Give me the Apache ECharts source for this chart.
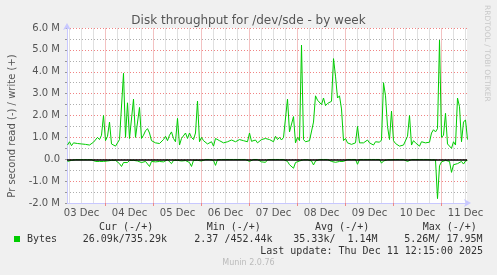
<!DOCTYPE html>
<html><head><meta charset="utf-8">
<script src="https://cdn.jsdelivr.net/npm/echarts@6/dist/echarts.min.js"></script>
<style>html,body{margin:0;padding:0;background:#f0f0f0}#c{width:497px;height:275px}</style>
</head><body><div id="c"></div><script>
// hours counted from 03 Dec 00:00; one sample per hour starting at firstHour
const firstHour = 5;
const dayLabels = ['03 Dec','04 Dec','05 Dec','06 Dec','07 Dec','08 Dec','09 Dec','10 Dec','11 Dec'];
// write (+) in MB/s
const writeValues = [
 0.65,0.8,0.62,0.75,0.68,0.72,0.66,0.7,0.75,0.68,0.72,
 0.65,0.7,0.78,0.85,1.0,0.9,1.1,2.0,0.85,1.05,
 1.7,0.7,0.62,0.6,0.75,0.9,0.85,3.93,1.0,2.58,
 0.95,1.0,2.75,1.0,0.95,2.37,0.95,1.1,1.3,1.4,
 1.2,0.85,0.8,0.75,0.78,0.72,0.8,0.9,1.05,0.85,
 1.1,1.25,0.95,0.8,1.87,0.65,0.95,0.9,1.2,0.95,
 1.2,1.0,0.9,1.2,2.66,0.8,1.0,0.85,0.9,0.7,
 0.75,0.8,0.6,0.95,1.0,0.85,0.88,0.75,0.75,0.8,
 0.85,0.88,0.82,0.8,0.88,0.9,0.82,0.85,0.78,0.8,
 1.2,0.82,0.85,0.88,0.75,0.8,0.9,0.85,0.95,0.88,
 0.9,0.88,0.8,1.05,0.9,1.0,0.88,1.0,0.95,2.75,
 1.25,1.2,1.95,0.75,1.0,0.85,5.22,0.9,0.8,0.88,
 0.85,0.78,1.7,2.9,2.7,2.75,2.5,2.8,2.45,2.55,
 2.5,2.65,4.6,3.8,2.8,2.9,2.3,0.85,0.95,0.75,
 0.72,0.68,0.7,0.75,1.5,0.75,0.8,0.75,0.8,0.88,
 0.75,0.8,0.65,0.8,0.75,0.78,0.88,3.5,2.9,1.5,
 0.9,2.2,0.85,0.72,0.75,0.6,0.58,0.65,0.6,1.05,
 2.0,0.65,0.85,0.75,0.72,0.6,0.8,0.72,0.75,0.8,
 0.78,1.2,1.35,1.25,1.4,5.45,1.0,1.1,2.1,0.7,
 0.68,0.5,0.8,0.65,2.8,2.4,0.8,1.7,1.8,0.9
];
// read (-) in MB/s, drawn below zero
const readValues = [
 0.1,0.08,0.05,0.02,0.02,0.02,0.02,0.02,0.02,0.02,0.02,
 0.02,0.02,0.02,0.1,0.12,0.1,0.15,0.1,0.12,0.08,
 0.1,0.05,0.03,0.05,0.08,0.2,0.33,0.15,0.1,0.15,
 0.05,0.08,0.05,0.1,0.08,0.12,0.15,0.2,0.1,0.15,
 0.33,0.1,0.08,0.12,0.05,0.1,0.08,0.12,0.05,0.02,
 0.1,0.2,0.05,0.03,0.05,0.02,0.08,0.03,0.06,0.05,
 0.15,0.33,0.05,0.03,0.05,0.02,0.08,0.06,0.01,0.01,
 0.01,0.01,0.05,0.28,0.02,0.01,0.01,0.01,0.01,0.01,
 0.01,0.01,0.01,0.01,0.01,0.01,0.01,0.01,0.01,0.01,
 0.1,0.08,0.01,0.01,0.01,0.01,0.12,0.06,0.14,0.02,
 0.01,0.01,0.01,0.01,0.01,0.01,0.01,0.01,0.05,0.1,
 0.25,0.33,0.41,0.15,0.1,0.08,0.05,0.02,0.02,0.02,
 0.1,0.08,0.26,0.08,0.06,0.01,0.01,0.01,0.01,0.01,
 0.01,0.1,0.1,0.14,0.06,0.1,0.05,0.1,0.01,0.01,
 0.01,0.01,0.01,0.01,0.23,0.01,0.01,0.01,0.01,0.01,
 0.01,0.01,0.01,0.01,0.01,0.01,0.18,0.08,0.06,0.02,
 0.04,0.02,0.08,0.01,0.01,0.01,0.01,0.01,0.01,0.1,
 0.08,0.01,0.01,0.01,0.01,0.01,0.01,0.01,0.01,0.01,
 0.01,0.03,0.05,0.03,1.8,0.3,0.12,0.08,0.05,0.08,
 0.1,0.6,0.25,0.18,0.2,0.25,0.1,0.22,0.08,0.05
];
const legendHeaders = ['Cur (-/+)','Min (-/+)','Avg (-/+)','Max (-/+)'];
const legendValues = ['26.09k/735.29k','2.37 /452.44k','35.33k/  1.14M','5.26M/ 17.95M'];
const lastUpdate = 'Last update: Thu Dec 11 12:15:00 2025';
const yTitle = 'Pr second read (-) / write (+)';
const titleText = 'Disk throughput for /dev/sde - by week';

const xMin = 4.75, xMax = 204.75;
const midnights = [], noons = [];
for (let h = 6; h < xMax; h += 6) {
  if (h % 24 === 0) midnights.push(h);
  if (h % 24 === 12) noons.push(h);
}
// quarter-hour slots spanning the x range, used only to place the vertical grid
const quarterSlots = [];
for (let q = xMin * 4; q <= xMax * 4; q++) quarterSlots.push(q / 4);

const writeData = writeValues.map((v, i) => [firstHour + i, v]);
const readData = readValues.map((v, i) => [firstHour + i, -v]);

const majorColor = 'rgba(235,90,90,0.75)';
const minorColor = 'rgba(120,120,120,0.6)';

const mono = 'DejaVu Sans Mono';
const headerX = [99, 206.7, 315, 422.7];
const valueX = [82.7, 194.3, 293.3, 404.3];
const graphics = [];
legendHeaders.forEach((t, i) => graphics.push({type:'text', left:headerX[i], top:222, style:{text:t, font:'10px "DejaVu Sans Mono"', fill:'#333'}}));
legendValues.forEach((t, i) => graphics.push({type:'text', left:valueX[i], top:234.5, style:{text:t, font:'10px "DejaVu Sans Mono"', fill:'#333'}}));
graphics.push({type:'text', right:14, top:246, style:{text:lastUpdate, font:'10px "DejaVu Sans Mono"', fill:'#333'}});
graphics.push({type:'text', left:'center', top:259, style:{text:'Munin 2.0.76', font:'8px "DejaVu Sans"', fill:'#bbb'}});
graphics.push({type:'text', x:12, y:126, rotation:Math.PI/2, style:{text:yTitle, font:'10px "DejaVu Sans"', fill:'#555', align:'center', verticalAlign:'middle'}});
graphics.push({type:'text', x:487, y:5, rotation:-Math.PI/2, style:{text:'RRDTOOL / TOBI OETIKER', font:'7.5px "DejaVu Sans"', fill:'#c8c8c8', align:'left', verticalAlign:'middle'}});

const gridAxis = (pick, color) => ({
  type:'category', data:quarterSlots, boundaryGap:false, position:'top',
  axisLine:{show:false}, axisTick:{show:false}, axisLabel:{show:false},
  splitLine:{show:true, interval:(idx, val) => pick(Number(val)), lineStyle:{color:color, type:'solid', width:1}}
});

const chart = echarts.init(document.getElementById('c'), null, {renderer:'canvas'});
chart.setOption({
  animation:false,
  backgroundColor:'#f0f0f0',
  title:{text:titleText, left:'center', top:10, textStyle:{fontFamily:'DejaVu Sans', fontSize:12, fontWeight:'normal', color:'#555'}},
  grid:{left:67, right:30, top:28, bottom:72, show:true, backgroundColor:'#fff', borderWidth:0},
  legend:{data:['Bytes'], left:14, top:234, padding:0, icon:'rect', itemWidth:6, itemHeight:6, itemGap:5,
    textStyle:{fontFamily:mono, fontSize:10, color:'#333', padding:[0,0,0,2]}},
  xAxis:[
    {type:'value', min:xMin, max:xMax, position:'bottom',
     axisLine:{show:true, onZero:false, lineStyle:{color:'#c8c8ff', width:1}, symbol:['none','arrow'], symbolSize:[6,7], symbolOffset:[0,4]},
     axisTick:{show:true, customValues:midnights, length:3, inside:false, lineStyle:{color:'#e88'}},
     splitLine:{show:false},
     axisLabel:{customValues:noons, margin:5, fontFamily:'DejaVu Sans', fontSize:10, color:'#555',
       formatter:(v)=>dayLabels[Math.round((v-12)/24)]}},
    gridAxis(v => v % 6 === 0 && v % 24 !== 0, '#e0e0e0'),
    gridAxis(v => v % 24 === 0, '#f3c2c2')
  ],
  yAxis:{type:'value', min:-2, max:6, interval:0.5,
    axisLine:{show:true, lineStyle:{color:'#c8c8ff'}, symbol:['none','arrow'], symbolSize:[6,7], symbolOffset:[0,5]},
    axisTick:{show:true, length:2, lineStyle:{color:'#999'}},
    splitLine:{show:true, lineStyle:{color:[majorColor, minorColor], type:[1,2], width:1}},
    axisLabel:{margin:7, fontFamily:'DejaVu Sans', fontSize:10, color:'#555',
      formatter:(v)=> (Math.abs(v % 1) > 1e-9) ? '' : (v === 0 ? '0.0' : v.toFixed(1) + ' M')}},
  graphic:graphics,
  series:[
    {name:'read', type:'line', xAxisIndex:0, data:readData, showSymbol:false, symbol:'none', color:'#00cc00',
     lineStyle:{width:1, color:'#00cc00'}, z:2},
    {name:'Bytes', type:'line', xAxisIndex:0, data:writeData, showSymbol:false, symbol:'none', color:'#00cc00',
     lineStyle:{width:1, color:'#00cc00'}, z:3,
     markLine:{silent:true, symbol:'none', label:{show:false}, lineStyle:{color:'#000', width:1.5, type:'solid'}, data:[{yAxis:0}], z:5}}
  ]
});
</script></body></html>
